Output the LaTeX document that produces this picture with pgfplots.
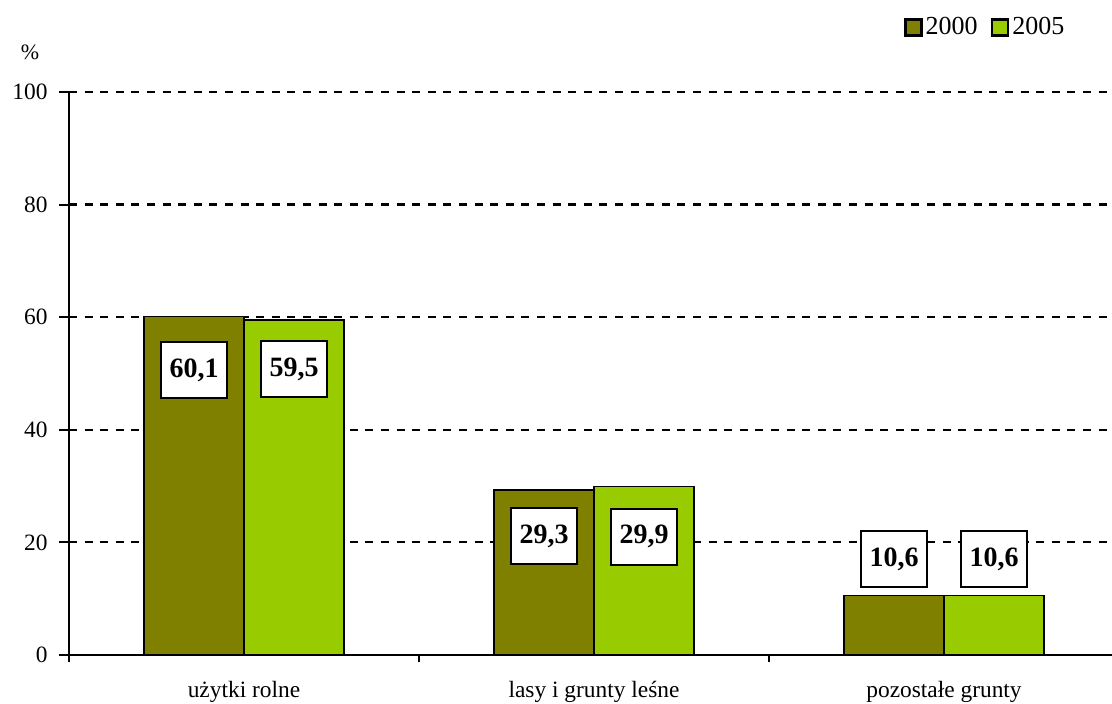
\documentclass[border=0pt]{standalone}
\usepackage{pgfplots}
\pgfplotsset{compat=1.18}
\usepackage{pgfplotstable}
\usepackage{fontspec}
\setmainfont{Liberation Serif}
\definecolor{olivebar}{HTML}{808000}
\definecolor{greenbar}{HTML}{99CC00}

\pgfplotstableread{
x y off lab
0 60.1 -9.5 {60,1}
1 29.3 -8.2 {29,3}
2 10.6 6.4 {10,6}
}\dataA
\pgfplotstableread{
x y off lab
0 59.5 -8.7 {59,5}
1 29.9 -8.9 {29,9}
2 10.6 6.4 {10,6}
}\dataB

\begin{document}
\begin{tikzpicture}
\begin{axis}[
  at={(34.5pt,24.5pt)}, anchor=south west,
  scale only axis,
  width=525pt, height=281.5pt,
  xmin=-0.5, xmax=2.5,
  ymin=0, ymax=100,
  ybar=0pt, bar width=50pt,
  axis x line*=bottom, axis y line*=left,
  axis line style={line width=1pt, black},
  xtick={0,1,2},
  xticklabels={użytki rolne, lasy i grunty leśne, pozostałe grunty},
  minor xtick={-0.5,0.5,1.5,2.5},
  major x tick style={draw=none},
  minor x tick style={line width=1pt, black},
  minor tick length=3.5pt,
  ytick={0,20,40,60,80,100},
  major y tick style={line width=1pt, black},
  major tick length=5pt,
  tick align=outside,
  /pgf/number format/assume math mode=true,
  ymajorgrids,
  major grid style={dash pattern=on 4pt off 3.8pt, line width=1.1pt, black},
  ticklabel style={font=\fontsize{11.7}{14}\selectfont},
  yticklabel style={inner sep=5.5pt},
  xticklabel style={yshift=-4.5pt},
  ylabel={\%},
  ylabel style={rotate=-90, at={(axis description cs:-0.037,1.071)}, anchor=center, font=\fontsize{11}{13}\selectfont},
  legend columns=2,
  legend style={at={(axis description cs:0.789,1.114)}, anchor=west, draw=none, fill=none,
    font=\fontsize{13}{15}\selectfont,
    /tikz/every even column/.append style={column sep=5pt},
    nodes={inner sep=1.5pt}},
  legend image code/.code={\draw[#1, line width=1.4pt] (0pt,-4pt) rectangle (8pt,4pt);},
  nodes near coords,
  point meta=explicit symbolic,
  visualization depends on={\thisrow{off} \as \off},
  every node near coord/.append style={anchor=center, yshift=\off*2.815pt,
    draw=black, fill=white, line width=1pt, minimum width=33pt, minimum height=28pt,
    inner sep=1pt, font=\bfseries\fontsize{14}{16}\selectfont},
]
\addplot[fill=olivebar, draw=black, line width=0.8pt] table[x=x, y=y, meta=lab] {\dataA};
\addplot[fill=greenbar, draw=black, line width=0.8pt] table[x=x, y=y, meta=lab] {\dataB};
\legend{2000,2005}
\end{axis}
\pgfresetboundingbox
\path[use as bounding box] (0,0) rectangle (556pt,352pt);
\end{tikzpicture}
\end{document}
